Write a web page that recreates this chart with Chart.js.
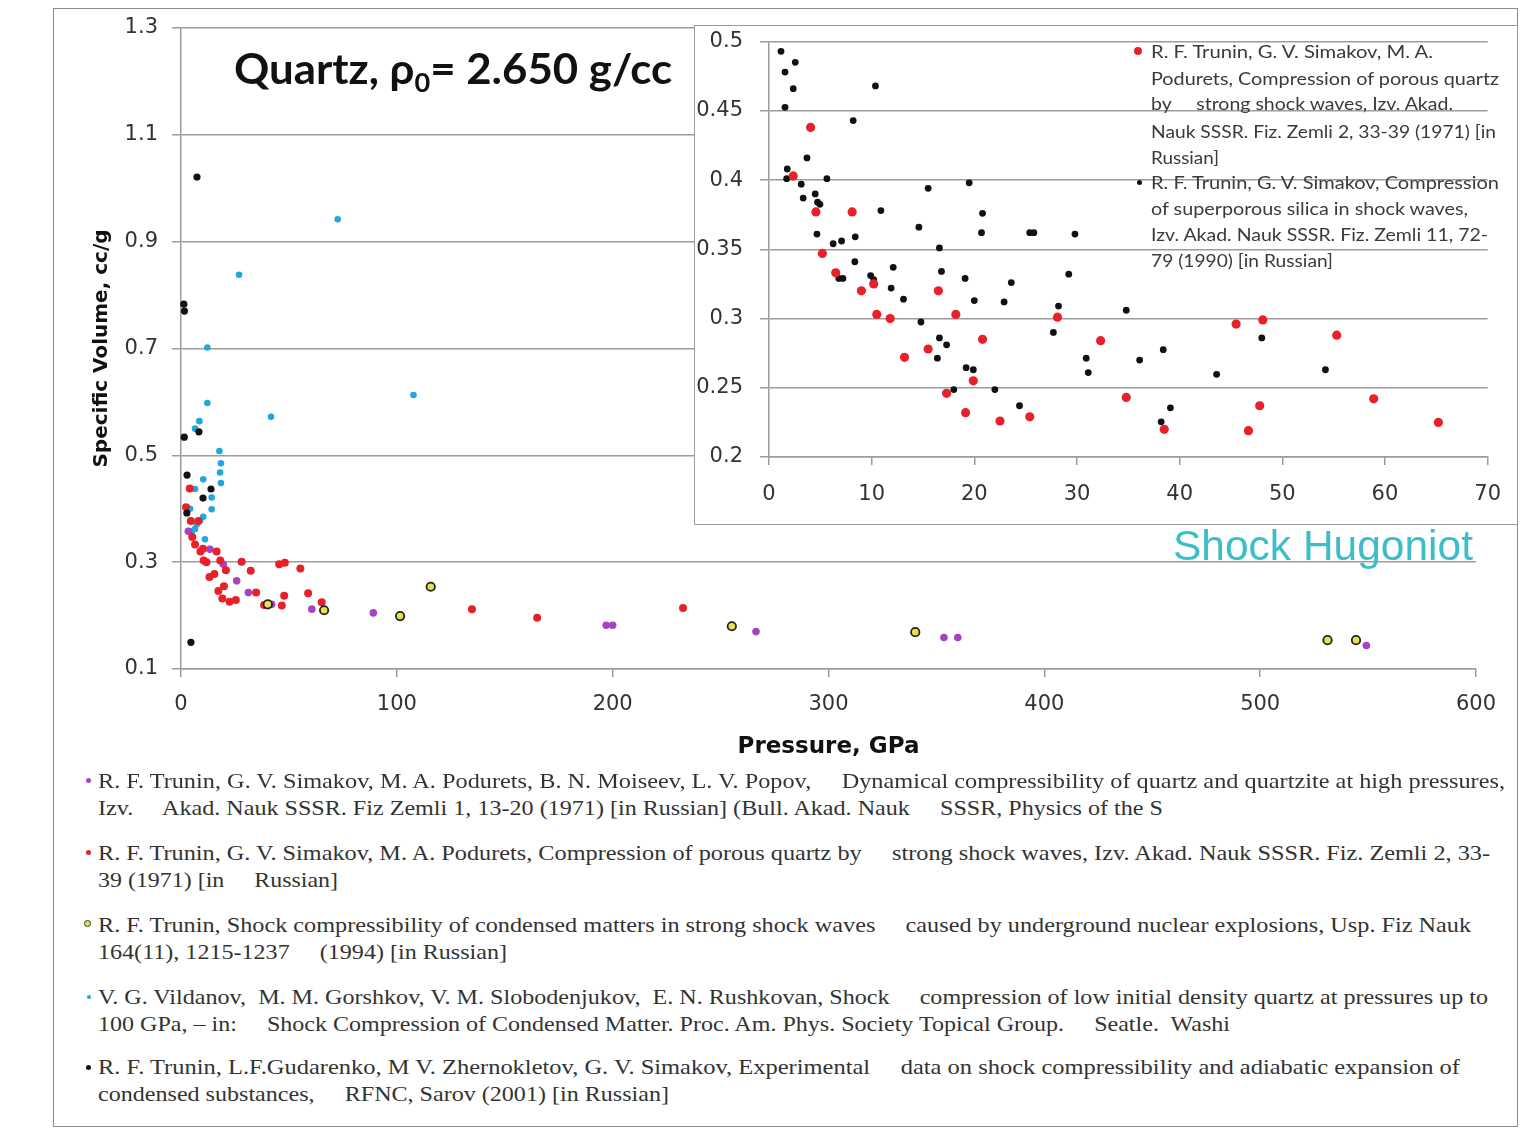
<!DOCTYPE html>
<html>
<head>
<meta charset="utf-8">
<script src="https://cdn.jsdelivr.net/npm/chart.js@4.4.1/dist/chart.umd.min.js"></script>
<style>
  html, body { margin: 0; padding: 0; background: #fff; }
  body { width: 1538px; height: 1130px; position: relative; overflow: hidden; }
  .abs { position: absolute; }
  #frame { left: 53px; top: 8px; width: 1465px; height: 1119px; border: 1.5px solid #8c8c8c; box-sizing: border-box; }
  #insetBox { left: 694px; top: 25px; width: 824px; height: 500px; border: 1.5px solid #9a9a9a; box-sizing: border-box; background: #fff; }
  .fit { position: absolute; white-space: pre; display: inline-block; transform-origin: 0 50%; }
  #title { left: 234px; top: 40px; font: bold 42px Lato, "Open Sans", sans-serif; color: #111; line-height: 56px; }
  #title sub { font-size: 26px; vertical-align: -8px; line-height: 0; }
  #hugoniot { left: 1173px; top: 521px; font: 42px "Liberation Sans", Arial, sans-serif; color: #3dbdc8; line-height: 50px; }
  .ileg { font: 18px Lato, "Open Sans", sans-serif; color: #3a3a3a; line-height: 26px; }
  .ref { font: 22px "Liberation Serif", "Times New Roman", serif; color: #333; line-height: 26px; }
  .dot { position: absolute; border-radius: 50%; }
</style>
</head>
<body>
<div id="frame" class="abs"></div>
<canvas id="mainChart" class="abs" width="1538" height="780" style="left:0;top:0;"></canvas>
<div id="insetBox" class="abs"></div>
<canvas id="insetChart" class="abs" width="824" height="512" style="left:694px;top:12px;"></canvas>

<div id="title" class="fit" data-w="438">Quartz, ρ<sub>0</sub>= 2.650 g/cc</div>
<div id="hugoniot" class="fit" data-w="300">Shock Hugoniot</div>

<!-- inset legend -->
<div class="dot" style="left:1134px;top:47px;width:8px;height:8px;background:#e8202a;"></div>
<div class="dot" style="left:1137px;top:180px;width:5px;height:5px;background:#111;"></div>
<div class="fit ileg" style="left:1151px;top:38px;" data-w="282">R. F. Trunin, G. V. Simakov, M. A.</div>
<div class="fit ileg" style="left:1151px;top:65px;" data-w="348">Podurets, Compression of porous quartz</div>
<div class="fit ileg" style="left:1151px;top:90px;" data-w="302">by     strong shock waves, Izv. Akad.</div>
<div class="fit ileg" style="left:1151px;top:118px;" data-w="345">Nauk SSSR. Fiz. Zemli 2, 33-39 (1971) [in</div>
<div class="fit ileg" style="left:1151px;top:144px;" data-w="68">Russian]</div>
<div class="fit ileg" style="left:1151px;top:169px;" data-w="348">R. F. Trunin, G. V. Simakov, Compression</div>
<div class="fit ileg" style="left:1151px;top:195px;" data-w="317">of superporous silica in shock waves,</div>
<div class="fit ileg" style="left:1151px;top:221px;" data-w="337">Izv. Akad. Nauk SSSR. Fiz. Zemli 11, 72-</div>
<div class="fit ileg" style="left:1151px;top:247px;" data-w="182">79 (1990) [in Russian]</div>

<!-- reference list -->
<div class="dot" style="left:86px;top:778px;width:5px;height:5px;background:#a544c2;"></div>
<div class="fit ref" style="left:98px;top:768px;" data-w="1407">R. F. Trunin, G. V. Simakov, M. A. Podurets, B. N. Moiseev, L. V. Popov,     Dynamical compressibility of quartz and quartzite at high pressures,</div>
<div class="fit ref" style="left:98px;top:795px;" data-w="1065">Izv.     Akad. Nauk SSSR. Fiz Zemli 1, 13-20 (1971) [in Russian] (Bull. Akad. Nauk     SSSR, Physics of the S</div>

<div class="dot" style="left:86px;top:850px;width:5px;height:5px;background:#e8202a;"></div>
<div class="fit ref" style="left:98px;top:840px;" data-w="1392">R. F. Trunin, G. V. Simakov, M. A. Podurets, Compression of porous quartz by     strong shock waves, Izv. Akad. Nauk SSSR. Fiz. Zemli 2, 33-</div>
<div class="fit ref" style="left:98px;top:867px;" data-w="240">39 (1971) [in     Russian]</div>

<div class="dot" style="left:84px;top:920px;width:7px;height:7px;background:#e6e24a;border:1.2px solid #333;box-sizing:border-box;"></div>
<div class="fit ref" style="left:98px;top:912px;" data-w="1373">R. F. Trunin, Shock compressibility of condensed matters in strong shock waves     caused by underground nuclear explosions, Usp. Fiz Nauk</div>
<div class="fit ref" style="left:98px;top:939px;" data-w="409">164(11), 1215-1237     (1994) [in Russian]</div>

<div class="dot" style="left:87px;top:995px;width:4px;height:4px;background:#22a7dc;"></div>
<div class="fit ref" style="left:98px;top:984px;" data-w="1390">V. G. Vildanov,  M. M. Gorshkov, V. M. Slobodenjukov,  E. N. Rushkovan, Shock     compression of low initial density quartz at pressures up to</div>
<div class="fit ref" style="left:98px;top:1011px;" data-w="1132">100 GPa, – in:     Shock Compression of Condensed Matter. Proc. Am. Phys. Society Topical Group.     Seatle.  Washi</div>

<div class="dot" style="left:86px;top:1065px;width:5px;height:5px;background:#111;"></div>
<div class="fit ref" style="left:98px;top:1054px;" data-w="1362">R. F. Trunin, L.F.Gudarenko, M V. Zhernokletov, G. V. Simakov, Experimental     data on shock compressibility and adiabatic expansion of</div>
<div class="fit ref" style="left:98px;top:1081px;" data-w="571">condensed substances,     RFNC, Sarov (2001) [in Russian]</div>

<script>
// ---- Data (pressure GPa, specific volume cc/g) ----
// Trunin, Simakov, Podurets 1971 – porous quartz (red), shared by inset and main chart
const porousP = [4.05, 2.36, 4.57, 8.1, 5.2, 6.5, 10.2, 9.0, 16.5, 10.5, 11.8, 18.2, 28.1, 13.2, 15.5, 20.8,
  32.3, 19.9, 17.3, 19.15, 22.5, 25.4, 34.8, 38.5, 45.5, 48.1, 55.3, 47.8, 46.7, 58.9, 65.2];
const porousV = [0.438, 0.403, 0.377, 0.377, 0.347, 0.333, 0.325, 0.320, 0.320, 0.303, 0.300, 0.303, 0.301, 0.272, 0.278, 0.285,
  0.284, 0.255, 0.246, 0.232, 0.226, 0.229, 0.243, 0.220, 0.296, 0.299, 0.288, 0.237, 0.219, 0.242, 0.225];
const porousHighP = [134.8, 165, 232.6];
const porousHighV = [0.212, 0.196, 0.214];

// Trunin, Simakov 1990 – superporous silica (black, inset)
const superP = [1.17, 1.56, 2.56, 2.36, 1.56, 10.37, 8.2, 3.7, 1.78, 1.72, 3.14, 5.64, 3.33, 4.5, 4.73,
  4.96, 10.9, 15.5, 19.5, 20.8, 14.6, 20.7, 25.4, 25.8, 29.8, 4.67, 6.25, 7.07, 8.4, 16.6,
  8.36, 12.1, 16.8, 9.9, 10.2, 6.8, 7.2, 19.1, 23.6, 29.2, 11.9, 13.1, 20.0, 22.9, 34.8,
  14.8, 28.2, 27.7, 16.6, 17.3, 16.4, 19.2, 19.9, 30.9, 31.1, 18.0, 22.0, 24.4, 36.1, 38.4,
  43.6, 48.0, 54.2, 39.1, 38.2];
const superV = [0.493, 0.478, 0.485, 0.466, 0.4525, 0.468, 0.443, 0.416, 0.408, 0.401, 0.397, 0.401, 0.387, 0.390, 0.384,
  0.3825, 0.378, 0.394, 0.398, 0.376, 0.366, 0.362, 0.362, 0.362, 0.361, 0.361, 0.354, 0.356, 0.359, 0.351,
  0.341, 0.337, 0.334, 0.331, 0.328, 0.329, 0.329, 0.329, 0.326, 0.332, 0.322, 0.314, 0.313, 0.312, 0.306,
  0.2975, 0.309, 0.290, 0.286, 0.281, 0.2714, 0.2645, 0.263, 0.2714, 0.261, 0.2487, 0.2487, 0.237, 0.270, 0.2775,
  0.2597, 0.286, 0.263, 0.2355, 0.2254];

// Trunin et al. 2001 (black, main)
const rfncP = [7.4, 1.3, 1.6, 1.5, 8.3, 2.8, 13.9, 10.2, 2.7, 4.6];
const rfncV = [1.021, 0.783, 0.770, 0.534, 0.544, 0.463, 0.437, 0.420, 0.392, 0.150];

// Vildanov et al. (cyan)
const vildanovP = [72.6, 26.9, 12.2, 107.7, 12.2, 41.7, 8.5, 6.5, 17.8, 18.5, 18.1, 18.5, 10.3, 6.5, 14.2, 14.2,
  4.2, 10.3, 8.8, 7.3, 6.5, 5.0, 11.1];
const vildanovV = [0.942, 0.838, 0.702, 0.613, 0.598, 0.572, 0.564, 0.550, 0.508, 0.485, 0.468, 0.448, 0.455, 0.437, 0.421, 0.399,
  0.400, 0.385, 0.378, 0.371, 0.362, 0.358, 0.343];

// Trunin et al. 1971 – dynamical compressibility (purple)
const dynP = [3.4, 13.4, 19.6, 25.8, 31.2, 42, 60.6, 89.1, 197, 200, 266.4, 353.5, 359.9, 549.2];
const dynV = [0.358, 0.324, 0.296, 0.265, 0.243, 0.221, 0.212, 0.205, 0.182, 0.182, 0.170, 0.159, 0.159, 0.144];

// Trunin 1994 – underground explosions (yellow ring)
const ugneP = [40.2, 66.3, 101.5, 115.7, 255.2, 340.2, 531.2, 544.4];
const ugneV = [0.221, 0.210, 0.199, 0.254, 0.180, 0.169, 0.154, 0.154];

const mainXTicks = [0, 100, 200, 300, 400, 500, 600];
const mainYTicks = [0.1, 0.3, 0.5, 0.7, 0.9, 1.1, 1.3];
const insetXTicks = [0, 10, 20, 30, 40, 50, 60, 70];
const insetYTicks = [0.2, 0.25, 0.3, 0.35, 0.4, 0.45, 0.5];

const pts = (xs, ys) => xs.map((x, i) => ({ x, y: ys[i] }));

// ---- Main chart ----
const GRID = '#9c9c9c';
const TICK_FONT = { family: 'DejaVu Sans', size: 21 };

new Chart(document.getElementById('mainChart'), {
  type: 'scatter',
  data: {
    datasets: [
      { label: 'RFNC 2001', data: pts(rfncP, rfncV), backgroundColor: '#111', borderWidth: 0, pointRadius: 3.6 },
      { label: 'Trunin 1994', data: pts(ugneP, ugneV), backgroundColor: '#e6e24a', borderColor: '#222', borderWidth: 1.8, pointRadius: 4.2 },
      { label: 'Trunin 1971 porous', data: pts(porousP.concat(porousHighP), porousV.concat(porousHighV)), backgroundColor: '#e8202a', borderWidth: 0, pointRadius: 4 },
      { label: 'Trunin 1971 dynamical', data: pts(dynP, dynV), backgroundColor: '#a544c2', borderWidth: 0, pointRadius: 3.8 },
      { label: 'Vildanov', data: pts(vildanovP, vildanovV), backgroundColor: '#22a7dc', borderWidth: 0, pointRadius: 3.3 },
    ].map(d => ({ ...d, clip: false, pointHoverRadius: d.pointRadius })),
  },
  options: {
    responsive: false,
    animation: false,
    layout: { padding: { left: 81, right: 62, top: 28, bottom: 11 } },
    plugins: { legend: { display: false }, tooltip: { enabled: false } },
    scales: {
      x: {
        type: 'linear', min: 0, max: 600,
        afterBuildTicks: s => { s.ticks = mainXTicks.map(v => ({ value: v })); },
        afterFit: s => { s.height = 100; },
        ticks: { color: '#333', font: TICK_FONT, padding: 15, maxRotation: 0 },
        grid: { drawOnChartArea: false, tickLength: 8, color: GRID, lineWidth: 1.5 },
        border: { color: GRID, width: 1.5 },
        title: { display: true, text: 'Pressure, GPa', color: '#111', font: { family: 'DejaVu Sans', size: 23, weight: 'bold' }, padding: { top: 0, bottom: 8 } },
      },
      y: {
        type: 'linear', min: 0.1, max: 1.3,
        afterBuildTicks: s => { s.ticks = mainYTicks.map(v => ({ value: v })); },
        afterFit: s => { s.width = 100; },
        ticks: { color: '#333', font: TICK_FONT, padding: 14, callback: v => v.toFixed(1) },
        grid: { tickLength: 9, color: GRID, lineWidth: 1.5 },
        border: { color: GRID, width: 1.5 },
        title: { display: true, text: 'Specific Volume, cc/g', color: '#111', font: { family: 'DejaVu Sans', size: 20, weight: 'bold' }, padding: { top: 9, bottom: 0 } },
      },
    },
  },
});

// ---- Inset chart ----
new Chart(document.getElementById('insetChart'), {
  type: 'scatter',
  data: {
    datasets: [
      { label: 'Trunin 1971 porous', data: pts(porousP, porousV), backgroundColor: '#e8202a', borderWidth: 0, pointRadius: 4.6 },
      { label: 'Trunin 1990 superporous', data: pts(superP, superV), backgroundColor: '#111', borderWidth: 0, pointRadius: 3.4 },
    ].map(d => ({ ...d, clip: false, pointHoverRadius: d.pointRadius })),
  },
  options: {
    responsive: false,
    animation: false,
    layout: { padding: { left: 0, right: 29, top: 28, bottom: 17 } },
    plugins: { legend: { display: false }, tooltip: { enabled: false } },
    scales: {
      x: {
        type: 'linear', min: 0, max: 70,
        afterBuildTicks: s => { s.ticks = insetXTicks.map(v => ({ value: v })); },
        afterFit: s => { s.height = 50; },
        ticks: { color: '#333', font: TICK_FONT, padding: 17, maxRotation: 0 },
        grid: { drawOnChartArea: false, tickLength: 8, color: GRID, lineWidth: 1.5 },
        border: { color: GRID, width: 1.5 },
      },
      y: {
        type: 'linear', min: 0.2, max: 0.5,
        afterBuildTicks: s => { s.ticks = insetYTicks.map(v => ({ value: v })); },
        afterFit: s => { s.width = 75; },
        ticks: { color: '#333', font: TICK_FONT, padding: 17, callback: v => String(+v.toFixed(2)) },
        grid: { tickLength: 9, color: GRID, lineWidth: 1.5 },
        border: { color: GRID, width: 1.5 },
      },
    },
  },
});

// stretch each text line to the width it has in the figure
document.querySelectorAll('.fit[data-w]').forEach(el => {
  const w = el.getBoundingClientRect().width;
  if (w > 0) el.style.transform = `scaleX(${el.dataset.w / w})`;
});
</script>
</body>
</html>
